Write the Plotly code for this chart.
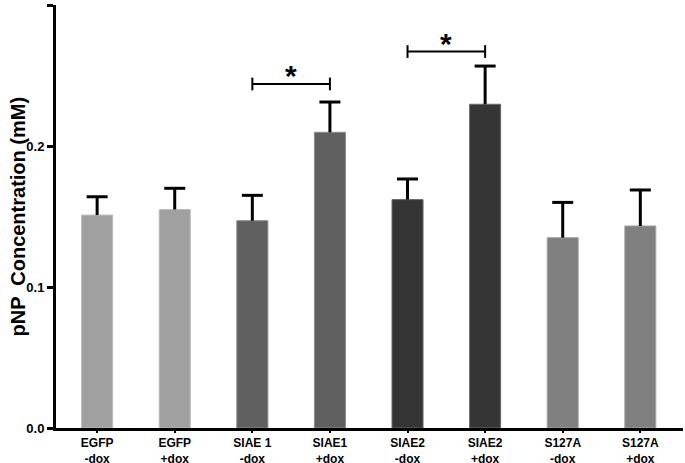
import plotly.graph_objects as go

categories = ["EGFP<br>-dox", "EGFP<br>+dox", "SIAE 1<br>-dox", "SIAE1<br>+dox",
              "SIAE2<br>-dox", "SIAE2<br>+dox", "S127A<br>-dox", "S127A<br>+dox"]
means = [0.151, 0.155, 0.147, 0.2097, 0.162, 0.2296, 0.135, 0.1433]
sem = [0.013, 0.015, 0.018, 0.0215, 0.0146, 0.0271, 0.025, 0.0255]
colors = ["#a0a0a0", "#a0a0a0", "#606060", "#606060",
          "#353535", "#353535", "#808080", "#808080"]
edge_colors = ["#bdbdbd", "#bdbdbd", "#8a8a8a", "#8a8a8a",
               "#6a6a6a", "#6a6a6a", "#a6a6a6", "#a6a6a6"]
brackets = [(2, 3, 0.244), (4, 5, 0.267)]
yticks = [0.0, 0.1, 0.2, 0.3]

FONT = "Arial, Liberation Sans, sans-serif"
xs = list(range(len(categories)))
tops = [m + s for m, s in zip(means, sem)]

fig = go.Figure()
fig.add_trace(go.Bar(
    x=xs, y=means, width=0.4,
    marker=dict(color=colors, line=dict(color=edge_colors, width=1)),
    showlegend=False,
))
# upward error stems (no caps) + caps drawn as horizontal line markers
fig.add_trace(go.Scatter(
    x=xs, y=means, mode="markers",
    marker=dict(size=1, color="rgba(0,0,0,0)"),
    error_y=dict(type="data", symmetric=False, array=sem,
                 arrayminus=[0] * len(sem), color="black", thickness=3, width=0),
    showlegend=False, hoverinfo="skip",
))
fig.add_trace(go.Scatter(
    x=xs, y=tops, mode="markers",
    marker=dict(symbol="line-ew", size=15, line=dict(color="black", width=3)),
    showlegend=False, hoverinfo="skip",
))

shapes = []
for x0, x1, y in brackets:
    shapes.append(dict(type="line", x0=x0, x1=x1, y0=y, y1=y, xref="x", yref="y",
                       line=dict(color="black", width=2)))
    for xx in (x0, x1):
        shapes.append(dict(type="line", x0=xx, x1=xx, y0=y - 0.0045, y1=y + 0.0045,
                           xref="x", yref="y", line=dict(color="black", width=2)))

annotations = []
for x0, x1, y in brackets:
    annotations.append(dict(x=(x0 + x1) / 2, y=y, xref="x", yref="y", text="<b>*</b>",
                            showarrow=False, yanchor="bottom", yshift=-10,
                            font=dict(family=FONT, size=30, color="black")))
annotations.append(dict(x=0, y=0.5, xref="paper", yref="paper", xanchor="center",
                        yanchor="middle", text="<b>pNP  Concentration (mM)</b>",
                        textangle=-90, showarrow=False, xshift=-39,
                        font=dict(family=FONT, size=20, color="black")))

fig.update_layout(
    width=685, height=463,
    margin=dict(l=56, r=2, t=5, b=35, autoexpand=False),
    paper_bgcolor="white", plot_bgcolor="white",
    font=dict(family=FONT, color="black"),
    shapes=shapes, annotations=annotations,
)
fig.update_xaxes(
    range=[-0.53, 7.55], tickvals=xs, ticktext=["<b>%s</b>" % c for c in categories],
    tickfont=dict(family=FONT, size=12, color="black"),
    showline=True, linecolor="black", linewidth=3,
    ticks="outside", ticklen=2, tickwidth=2, tickcolor="black",
    showgrid=False, zeroline=False, automargin=False,
)
fig.update_yaxes(
    range=[0, 0.3], tickvals=yticks, ticktext=["<b>%.1f</b>" % v for v in yticks],
    tickfont=dict(family=FONT, size=13, color="black"),
    showline=True, linecolor="black", linewidth=3,
    ticks="outside", ticklen=6, tickwidth=3, tickcolor="black",
    showgrid=False, zeroline=False, automargin=False,
)

fig.write_html("out.html", config={"displayModeBar": False},
               post_script="document.body.style.margin='0';document.body.style.padding='0';")
